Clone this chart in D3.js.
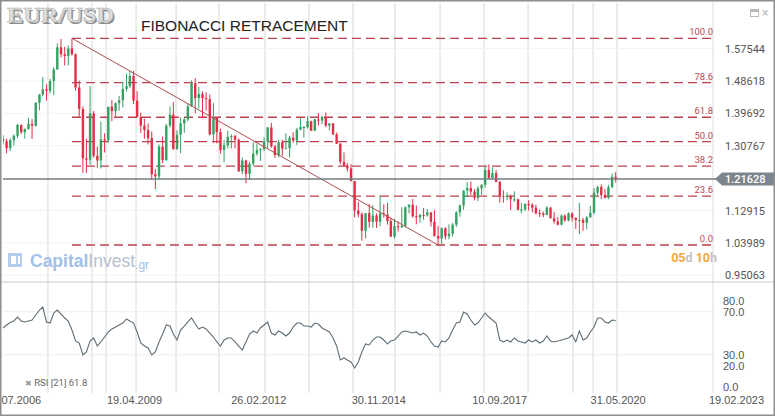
<!DOCTYPE html>
<html><head><meta charset="utf-8">
<script src="https://cdn.jsdelivr.net/npm/d3@7/dist/d3.min.js"></script>
<style>
html,body{margin:0;padding:0;background:#fff;}
svg{display:block;font-family:Roboto,"Liberation Sans",Arial,sans-serif;}
</style></head><body>
<svg id="chart" width="775" height="417"></svg>
<script>
// ---------------- DATA ----------------
const symbol = "EUR/USD";
const chartTitle = "FIBONACCI RETRACEMENT";
const firstBarDate = "15.04.2006";   // monthly bars, one per month
const firstOpen = 1.326;
const highs = [
 1.337,1.327,1.328,1.339,1.368,1.366,1.355,1.385,1.381,1.428,
 1.450,1.497,1.477,1.492,1.524,1.590,1.602,1.580,1.584,1.6038,
 1.562,1.487,1.416,1.327,1.472,1.403,1.305,1.374,1.342,1.415,
 1.434,1.427,1.445,1.484,1.506,1.514,1.514,1.458,1.399,1.382,
 1.369,1.347,1.244,1.311,1.333,1.368,1.416,1.428,1.350,1.386,
 1.386,1.425,1.488,1.494,1.470,1.458,1.455,1.449,1.425,1.387,
 1.355,1.323,1.349,1.339,1.338,1.328,1.275,1.269,1.264,1.317,
 1.314,1.301,1.331,1.359,1.371,1.310,1.324,1.324,1.342,1.335,
 1.345,1.357,1.383,1.362,1.389,1.377,1.382,1.397,1.390,1.3995,
 1.370,1.370,1.344,1.315,1.289,1.260,1.257,1.210,1.153,1.124,
 1.122,1.147,1.144,1.121,1.171,1.146,1.150,1.109,1.106,1.099,
 1.138,1.140,1.146,1.161,1.143,1.119,1.136,1.133,1.124,1.130,
 1.087,1.083,1.083,1.091,1.095,1.127,1.145,1.185,1.207,1.209,
 1.188,1.196,1.202,1.254,1.256,1.248,1.241,1.210,1.185,1.179,
 1.173,1.182,1.162,1.150,1.149,1.157,1.149,1.145,1.132,1.126,
 1.141,1.139,1.125,1.111,1.118,1.118,1.124,1.124,1.110,1.150,
 1.109,1.114,1.142,1.191,1.197,1.201,1.188,1.200,1.231,1.235];
const lows = [
 1.310,1.287,1.293,1.308,1.329,1.340,1.327,1.352,1.326,1.360,
 1.405,1.444,1.432,1.452,1.447,1.517,1.551,1.529,1.529,1.556,
 1.459,1.388,1.233,1.233,1.255,1.275,1.246,1.245,1.289,1.316,
 1.375,1.385,1.404,1.413,1.457,1.466,1.422,1.386,1.343,1.327,
 1.311,1.214,1.188,1.215,1.259,1.266,1.358,1.297,1.297,1.287,
 1.343,1.375,1.415,1.397,1.410,1.384,1.405,1.336,1.315,1.314,
 1.286,1.262,1.300,1.300,1.300,1.236,1.229,1.204,1.213,1.252,
 1.280,1.266,1.293,1.300,1.302,1.274,1.275,1.280,1.300,1.275,
 1.315,1.310,1.350,1.330,1.355,1.348,1.348,1.364,1.367,1.359,
 1.350,1.337,1.313,1.257,1.250,1.236,1.210,1.110,1.110,1.046,
 1.052,1.082,1.082,1.081,1.086,1.109,1.090,1.056,1.052,1.071,
 1.081,1.082,1.121,1.110,1.091,1.095,1.104,1.112,1.085,1.057,
 1.034,1.037,1.049,1.050,1.057,1.084,1.112,1.131,1.166,1.172,
 1.157,1.155,1.172,1.192,1.215,1.215,1.207,1.151,1.151,1.157,
 1.130,1.153,1.130,1.121,1.127,1.129,1.124,1.118,1.111,1.111,
 1.116,1.107,1.093,1.088,1.088,1.098,1.099,1.099,1.078,1.064,
 1.073,1.077,1.110,1.119,1.170,1.161,1.162,1.160,1.192,1.206];
const closes = [
 1.320,1.301,1.323,1.335,1.365,1.345,1.354,1.368,1.363,1.426,
 1.449,1.463,1.459,1.486,1.518,1.579,1.560,1.555,1.576,1.560,
 1.468,1.409,1.273,1.269,1.397,1.280,1.267,1.325,1.323,1.415,
 1.403,1.425,1.433,1.464,1.472,1.500,1.432,1.387,1.363,1.351,
 1.329,1.229,1.223,1.305,1.268,1.363,1.393,1.298,1.338,1.369,
 1.380,1.416,1.480,1.439,1.450,1.439,1.436,1.339,1.386,1.345,
 1.296,1.309,1.332,1.334,1.324,1.237,1.267,1.230,1.258,1.286,
 1.296,1.298,1.319,1.358,1.306,1.282,1.317,1.300,1.301,1.330,
 1.322,1.352,1.359,1.359,1.375,1.349,1.380,1.377,1.387,1.363,
 1.369,1.339,1.313,1.263,1.253,1.245,1.210,1.129,1.119,1.073,
 1.122,1.098,1.115,1.098,1.121,1.118,1.100,1.057,1.086,1.083,
 1.087,1.138,1.145,1.113,1.110,1.117,1.116,1.124,1.098,1.059,
 1.052,1.080,1.058,1.065,1.090,1.124,1.143,1.184,1.191,1.181,
 1.164,1.190,1.200,1.241,1.219,1.232,1.208,1.169,1.168,1.169,
 1.160,1.160,1.131,1.132,1.147,1.145,1.137,1.122,1.121,1.117,
 1.137,1.108,1.099,1.090,1.115,1.102,1.121,1.109,1.103,1.103,
 1.095,1.110,1.123,1.178,1.194,1.172,1.164,1.193,1.222,1.21628];
const rsiValues = [
 54.9,57.7,60.0,61.4,65.1,61.4,60.5,61.4,62.3,67.0,
 71.6,74.4,60.5,59.5,68.8,71.6,67.9,64.2,61.4,53.0,
 42.8,40.9,29.8,32.6,42.8,45.6,38.1,41.9,46.5,51.2,
 54.0,55.8,57.7,59.5,63.3,61.4,59.5,51.2,40.9,38.1,
 36.3,29.8,32.6,41.9,49.3,57.7,56.7,49.3,43.7,53.0,
 56.7,60.5,64.2,58.6,54.0,55.8,54.0,50.2,46.5,41.9,
 38.1,43.7,45.6,45.6,41.9,38.1,34.4,41.9,49.3,52.1,
 50.2,54.9,57.7,60.5,50.2,48.4,52.1,50.2,47.4,50.2,
 55.8,59.5,59.5,56.7,56.7,55.8,59.5,58.6,54.9,53.0,
 51.2,45.6,38.1,25.1,27.0,25.1,23.3,17.7,23.3,32.6,
 40.0,39.1,43.7,46.5,46.5,43.7,40.0,42.8,43.7,47.4,
 51.2,52.1,51.2,50.2,51.2,48.4,50.2,47.4,41.9,38.1,
 37.2,42.8,41.9,45.6,53.0,59.5,60.5,69.8,67.9,62.3,
 57.7,59.5,64.2,68.8,65.1,62.3,59.5,43.7,41.9,43.7,
 41.9,45.6,42.8,41.9,40.9,43.7,41.9,43.7,40.9,42.8,
 47.4,42.8,41.9,42.8,43.7,44.7,45.6,48.4,41.9,52.1,
 43.7,45.6,51.2,55.8,64.2,64.2,60.5,59.5,62.3,61.8];
const rsiPeriod = 21;
const priceTicks = [0.95063, 1.03989, 1.12915, 1.30767, 1.39692, 1.48618, 1.57544];
const rsiTicks = [0, 20, 30, 70, 80];
const rsiGridLevels = [30, 70];
const fibLevels = [0, 23.6, 38.2, 50, 61.8, 78.6, 100];
const xTickDates = ["09.07.2006","19.04.2009","26.02.2012","30.11.2014","10.09.2017","31.05.2020","19.02.2023"];
const gridDates = ["27.04.2007","01.05.2008","28.08.2008","06.05.2009","07.04.2010","03.04.2011","23.04.2012",
  "27.04.2013","02.05.2014","19.04.2015","01.05.2016","06.05.2017","10.05.2018","22.05.2019","08.11.2019","26.05.2020"];
const countdownParts = [["05","num"],["d","unit"],[" 10","num"],["h","unit"]];
const logoParts = [["Capital","#8fb6e4"],["Invest","#adb6c6"]];
const logoSuffix = ".gr";

// ---------------- LAYOUT ----------------
const W = 775, H = 417;
const plotL = 3, plotR = 713, priceTop = 5, priceBot = 282, rsiTop = 282, rsiBot = 393;
const parseD = d3.timeParse("%d.%m.%Y");
const fmtD = d3.timeFormat("%d.%m.%Y");

const x = d3.scaleTime().domain([parseD("15.04.2006"), parseD("10.08.2022")]).range([plotL, plotR]);
const y = d3.scaleLinear().domain([0.932, 1.6956]).range([priceBot, priceTop]);
const yR = d3.scaleLinear().domain([0, 100]).range([387, 279.5]);

const start = parseD(firstBarDate);
const bars = closes.map((c, i) => ({
  date: d3.timeMonth.offset(start, i),
  open: i ? closes[i - 1] : firstOpen,
  high: highs[i], low: lows[i], close: c, rsi: rsiValues[i]
}));
const lastPrice = closes[closes.length - 1];
const hiIdx = d3.maxIndex(bars, d => d.high);
const loIdx = d3.minIndex(bars, d => d.low);
const fibHigh = bars[hiIdx].high, fibLow = bars[loIdx].low;

const svg = d3.select("#chart");
svg.append("rect").attr("width", W).attr("height", H).attr("fill", "#fff");

const defs = svg.append("defs");
defs.append("clipPath").attr("id", "clipPrice").append("rect")
  .attr("x", plotL).attr("y", priceTop - 2).attr("width", plotR - plotL).attr("height", priceBot - priceTop + 2);
defs.append("clipPath").attr("id", "clipRsi").append("rect")
  .attr("x", plotL).attr("y", rsiTop).attr("width", plotR - plotL).attr("height", rsiBot - rsiTop);

// grid
const grid = svg.append("g");
grid.selectAll("line.v").data(gridDates.map(parseD)).join("line")
  .attr("x1", d => x(d)).attr("x2", d => x(d)).attr("y1", 3).attr("y2", rsiBot)
  .attr("stroke", "#e7e7e7").attr("stroke-width", 1.6);
grid.selectAll("line.hp").data(priceTicks).join("line")
  .attr("x1", plotL).attr("x2", plotR).attr("y1", d => y(d)).attr("y2", d => y(d))
  .attr("stroke", "#f2f2f2").attr("stroke-width", 1);
grid.selectAll("line.hr").data(rsiGridLevels).join("line")
  .attr("x1", plotL).attr("x2", plotR).attr("y1", d => yR(d)).attr("y2", d => yR(d))
  .attr("stroke", "#eeeeee").attr("stroke-width", 1);

// separators
svg.append("line").attr("x1", plotR).attr("x2", plotR).attr("y1", 0).attr("y2", rsiBot)
  .attr("stroke", "#e4e4e4").attr("stroke-width", 1.2);
svg.append("line").attr("x1", 0).attr("x2", W).attr("y1", priceBot).attr("y2", priceBot)
  .attr("stroke", "#c9c9c9").attr("stroke-width", 1);

// logo
const logo = svg.append("g").attr("opacity", 0.85);
logo.append("rect").attr("x", 8).attr("y", 253).attr("width", 14).attr("height", 14).attr("fill", "#a9c5e8");
logo.append("rect").attr("x", 11).attr("y", 256).attr("width", 5).attr("height", 8).attr("fill", "#fff");
logo.append("rect").attr("x", 18).attr("y", 256).attr("width", 2).attr("height", 8).attr("fill", "#fff");
const lt = logo.append("text").attr("x", 30).attr("y", 267).attr("font-family", "'Liberation Sans',Arial,sans-serif")
  .attr("font-size", 17.5);
logoParts.forEach((p, i) => lt.append("tspan").text(p[0]).attr("fill", p[1]).attr("font-weight", i === 0 ? "bold" : "normal"));
lt.append("tspan").text(logoSuffix).attr("fill", "#8fb6e4").attr("font-size", 12).attr("dy", 2);

// fib lines
const fibG = svg.append("g");
const fx0 = x(bars[hiIdx].date);
fibLevels.forEach(l => {
  const p = fibLow + (fibHigh - fibLow) * l / 100;
  fibG.append("line").attr("x1", fx0).attr("x2", plotR + 3).attr("y1", y(p)).attr("y2", y(p))
    .attr("stroke", "#b9424c").attr("stroke-width", 1.3).attr("stroke-dasharray", "9,5");
  fibG.append("text").attr("x", plotR).attr("y", y(p) - 3).attr("text-anchor", "end")
    .attr("font-size", 9.5).attr("fill", "#c2474f").text(d3.format(".1f")(l));
});

// candles
const cg = svg.append("g").attr("clip-path", "url(#clipPrice)");
const up = "#34a062", down = "#e52d48";
const cs = cg.selectAll("g").data(bars).join("g");
cs.append("line")
  .attr("x1", d => x(d.date)).attr("x2", d => x(d.date))
  .attr("y1", d => y(Math.max(d.high, d.open, d.close))).attr("y2", d => y(Math.min(d.low, d.open, d.close)))
  .attr("stroke", d => d.close >= d.open ? up : down).attr("stroke-width", 1);
cs.append("rect")
  .attr("x", d => x(d.date) - 1.2).attr("width", 2.4)
  .attr("y", d => y(Math.max(d.open, d.close)))
  .attr("height", d => Math.max(1, Math.abs(y(d.open) - y(d.close))))
  .attr("fill", d => d.close >= d.open ? up : down);

// trend line
svg.append("line")
  .attr("x1", x(bars[hiIdx].date)).attr("y1", y(fibHigh))
  .attr("x2", x(bars[loIdx].date)).attr("y2", y(fibLow))
  .attr("stroke", "#a94f4f").attr("stroke-width", 1);

// current price line
svg.append("line").attr("x1", plotL).attr("x2", plotR + 3).attr("y1", y(lastPrice)).attr("y2", y(lastPrice))
  .attr("stroke", "#737c82").attr("stroke-width", 1.5);

// price axis
const pAxis = svg.append("g").attr("transform", `translate(${plotR + 9},0)`)
  .call(d3.axisRight(y).tickValues(priceTicks).tickFormat(d3.format(".5f")).tickSize(0).tickPadding(3));
pAxis.select(".domain").remove();
pAxis.selectAll("text").attr("fill", "#555").attr("font-size", 11).attr("font-family", "Roboto,sans-serif");

// price tag
const yc = y(lastPrice);
svg.append("path")
  .attr("d", `M${plotR + 2},${yc} L${plotR + 9},${yc - 6.5} L${W},${yc - 6.5} L${W},${yc + 6.5} L${plotR + 9},${yc + 6.5} Z`)
  .attr("fill", "#7d868c");
svg.append("text").attr("x", plotR + 12).attr("y", yc + 4).attr("fill", "#fff").attr("font-size", 11)
  .attr("font-weight", 500).text(d3.format(".5f")(lastPrice));

// countdown
const cd = svg.append("text").attr("x", plotR + 4).attr("y", 262).attr("text-anchor", "end")
  .attr("font-size", 12.5).attr("font-weight", "bold");
countdownParts.forEach(p => cd.append("tspan").text(p[0]).attr("fill", p[1] === "num" ? "#f2aa3a" : "#c4c4c4"));

// RSI line
svg.append("path").datum(bars).attr("clip-path", "url(#clipRsi)")
  .attr("d", d3.line().x(d => x(d.date)).y(d => yR(d.rsi)))
  .attr("fill", "none").attr("stroke", "#5f6d76").attr("stroke-width", 1.1);

// RSI axis
const rAxis = svg.append("g").attr("transform", `translate(${plotR + 7},0)`)
  .call(d3.axisRight(yR).tickValues(rsiTicks).tickFormat(d3.format(".1f")).tickSize(0).tickPadding(3));
rAxis.select(".domain").remove();
rAxis.selectAll("text").attr("fill", "#555").attr("font-size", 11);

// RSI label
const rl = svg.append("text").attr("x", 25).attr("y", 386).attr("font-size", 9.5).attr("fill", "#666");
rl.append("tspan").text("✖ ").attr("font-family", "'DejaVu Sans'").attr("font-size", 8).attr("fill", "#999");
rl.append("tspan").text(`RSI [${rsiPeriod}] ${d3.format(".1f")(rsiValues[rsiValues.length - 1])}`);

// x axis
const xAxis = svg.append("g").attr("transform", `translate(0,${rsiBot})`)
  .call(d3.axisBottom(x).tickValues(xTickDates.map(parseD)).tickFormat(fmtD).tickSize(0).tickPadding(3));
xAxis.select(".domain").remove();
xAxis.selectAll("text").attr("fill", "#555").attr("font-size", 11);

// titles
svg.append("text").attr("x", 8.5).attr("y", 23.5).attr("font-family", "'Liberation Serif',serif")
  .attr("font-weight", "bold").attr("font-size", 22).attr("textLength", 107).attr("lengthAdjust", "spacingAndGlyphs")
  .attr("fill", "#8d8d8d").text(symbol);
svg.append("text").attr("x", 7).attr("y", 22).attr("font-family", "'Liberation Serif',serif")
  .attr("font-weight", "bold").attr("font-size", 22).attr("textLength", 107).attr("lengthAdjust", "spacingAndGlyphs")
  .attr("fill", "#dedede").attr("stroke", "#b4b4b4").attr("stroke-width", 0.6).text(symbol);
svg.append("text").attr("x", 141).attr("y", 31).attr("font-family", "'Liberation Sans',Arial,sans-serif")
  .attr("font-size", 15.5).attr("fill", "#222").text(chartTitle);

// top-right icons
svg.append("rect").attr("x", 750.5).attr("y", 9.5).attr("width", 8).attr("height", 7).attr("fill", "none").attr("stroke", "#bbb");
svg.append("rect").attr("x", 750.5).attr("y", 9.5).attr("width", 8).attr("height", 2.5).attr("fill", "#bbb");
svg.append("text").attr("x", 762).attr("y", 17).attr("font-size", 12).attr("fill", "#bbb").text("×");

// outer border
svg.append("rect").attr("x", 0.75).attr("y", 0.75).attr("width", W - 1.5).attr("height", H - 2.5)
  .attr("fill", "none").attr("stroke", "#8e8e8e").attr("stroke-width", 1.5);
</script>
</body></html>
